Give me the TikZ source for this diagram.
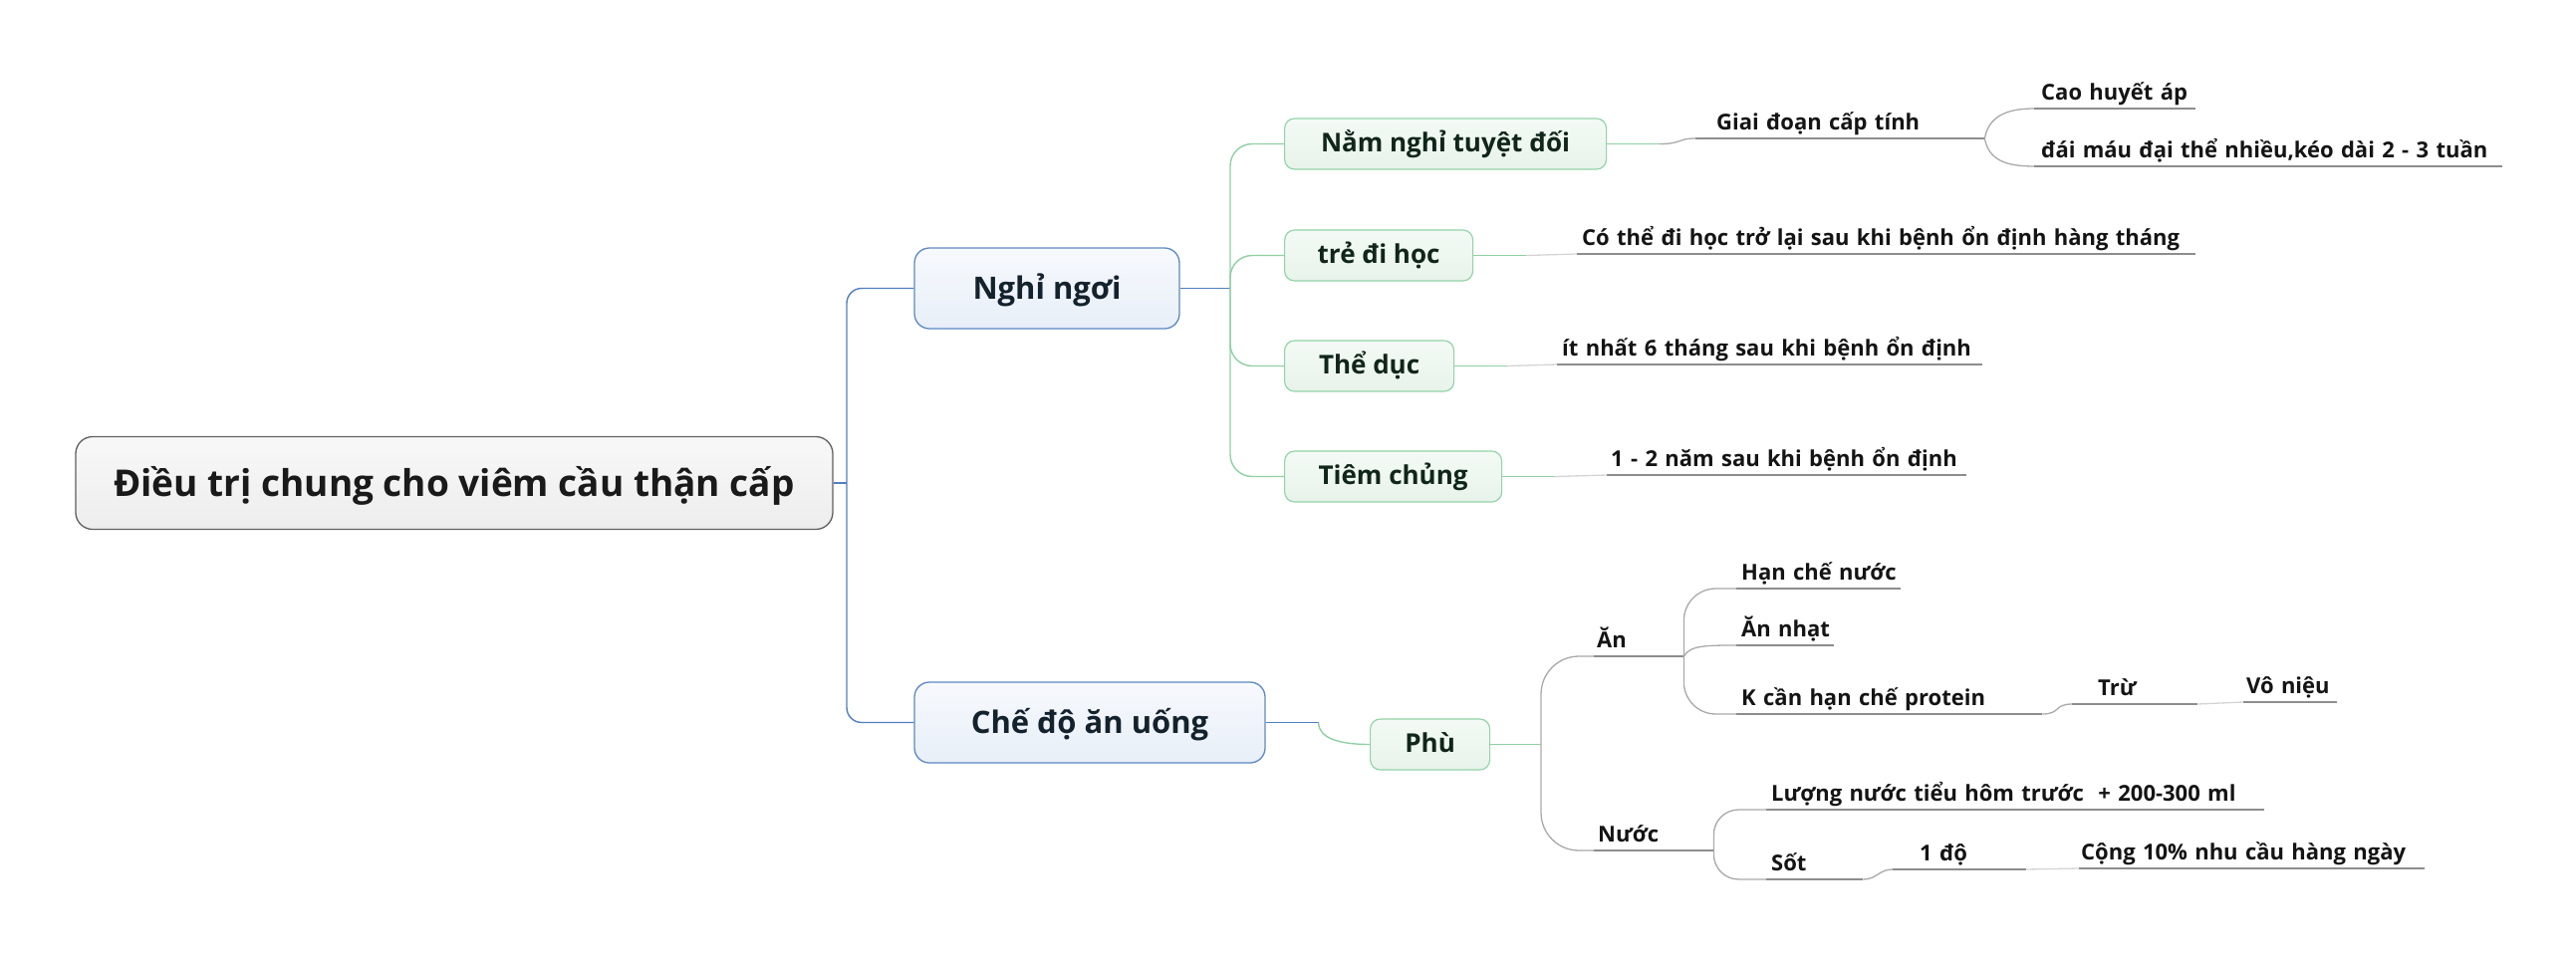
\documentclass[tikz,border=0pt]{standalone}
\usepackage{fontspec}
\setmainfont{Open Sans}
\usetikzlibrary{calc}
\definecolor{rootdraw}{HTML}{5F5F5F}
\definecolor{rootA}{HTML}{F8F8F8}
\definecolor{rootB}{HTML}{EDEDED}
\definecolor{roottext}{HTML}{1A1A1A}
\definecolor{maindraw}{HTML}{5D89C3}
\definecolor{mainA}{HTML}{F7F9FD}
\definecolor{mainB}{HTML}{E8EFF8}
\definecolor{maintext}{HTML}{13222D}
\definecolor{subdraw}{HTML}{93D3A8}
\definecolor{subA}{HTML}{F4FAF5}
\definecolor{subB}{HTML}{E7F3EA}
\definecolor{subtext}{HTML}{10261A}
\definecolor{bluecol}{HTML}{4F7FBF}
\definecolor{greencol}{HTML}{8FD0A3}
\definecolor{conncol}{HTML}{A9A9A9}
\definecolor{ulinecol}{HTML}{8D8D8D}
\definecolor{lightcol}{HTML}{D4D4D4}
\definecolor{leaftext}{HTML}{141414}
\tikzset{
 rootbox/.style={draw=rootdraw, line width=1.3pt, rounded corners=17pt, top color=rootA, bottom color=rootB,
   minimum width=760pt, minimum height=93pt, inner sep=0pt, text=roottext,
   font=\bfseries\fontsize{37}{42}\selectfont, text height=35pt, text depth=8pt},
 mainbox/.style={draw=maindraw, line width=1.3pt, rounded corners=15pt, top color=mainA, bottom color=mainB,
   minimum height=81pt, inner sep=0pt, text=maintext,
   font=\bfseries\fontsize{31}{36}\selectfont, text height=29.5pt, text depth=6.8pt},
 subbox/.style={draw=subdraw, line width=1.2pt, rounded corners=10pt, top color=subA, bottom color=subB,
   minimum height=51pt, inner sep=0pt, anchor=west, text=subtext,
   font=\bfseries\fontsize{26}{30}\selectfont, text height=23.4pt, text depth=6.5pt},
 leaf/.style={anchor=south west, align=left, inner ysep=2pt, text=leaftext,
   font=\bfseries\fontsize{22}{26}\selectfont, text height=23pt, text depth=6pt},
 uline/.style={draw=ulinecol, line width=1.4pt},
 bline/.style={draw=bluecol, line width=1.4pt},
 gline/.style={draw=greencol, line width=1.4pt},
 cline/.style={draw=conncol, line width=1.3pt},
 lline/.style={draw=lightcol, line width=1.3pt},
}
% name, x1, x2, y, left pad, text
\newcommand\leafnode[6]{%
 \pgfmathsetmacro\lfw{#3-#2-2*#5}%
 \node[leaf, inner xsep=#5pt, text width=\lfw pt] (#1) at (#2,#4) {\mbox{#6}};%
 \draw[uline] (#1.south west) -- (#1.south east);}
\begin{document}
\begin{tikzpicture}[x=1pt,y=-1pt]
\path[use as bounding box] (0,0) rectangle (2586,969);

% main nodes
\node[rootbox] (root) at (456,485) {Điều trị chung cho viêm cầu thận cấp};
\node[mainbox, minimum width=266pt] (nghi) at (1051,289.5) {Nghỉ ngơi};
\node[mainbox, minimum width=352pt] (che) at (1094,725.5) {Chế độ ăn uống};

\node[subbox, minimum width=323pt] (nam) at (1289,144.5) {Nằm nghỉ tuyệt đối};
\node[subbox, minimum width=189pt] (tre) at (1289,256.5) {trẻ đi học};
\node[subbox, minimum width=170pt] (the) at (1289,367.5) {Thể dục};
\node[subbox, minimum width=218pt] (tiem) at (1289,478.5) {Tiêm chủng};
\node[subbox, minimum width=120pt] (phu) at (1375,747.5) {Phù};

% leaves
\leafnode{gd}{1702}{1992}{139}{21}{Giai đoạn cấp tính}
\leafnode{cao}{2042}{2204}{109}{7}{Cao huyết áp}
\leafnode{dai}{2042}{2512}{167}{7}{đái máu đại thể nhiều,kéo dài 2 - 3 tuần}
\leafnode{cothe}{1583}{2204}{255}{5}{Có thể đi học trở lại sau khi bệnh ổn định hàng tháng}
\leafnode{itnhat}{1563}{1990}{366}{5}{ít nhất 6 tháng sau khi bệnh ổn định}
\leafnode{mothai}{1613}{1974}{477}{4}{1 - 2 năm sau khi bệnh ổn định}
\leafnode{an}{1600}{1690}{659}{3}{Ăn}
\leafnode{hcn}{1743}{1908}{591}{5}{Hạn chế nước}
\leafnode{nhat}{1743}{1841}{648}{5}{Ăn nhạt}
\leafnode{kcan}{1743}{2050}{717}{5}{K cần hạn chế protein}
\leafnode{tru}{2080}{2206}{707}{26}{Trừ}
\leafnode{vn}{2252}{2346}{705}{3}{Vô niệu}
\leafnode{nuoc}{1600}{1720}{854}{4}{Nước}
\leafnode{luong}{1773}{2273}{813}{5}{Lượng nước tiểu hôm trước~ + 200-300 ml}
\leafnode{sot}{1773}{1870}{883}{5}{Sốt}
\leafnode{mot}{1900}{2034}{873}{27}{1 độ}
\leafnode{cong}{2087}{2434}{872}{2}{Cộng 10\% nhu cầu hàng ngày}

% root connectors
\coordinate (rj) at (850,485);
\draw[bline] (root.east) -- (rj);
\draw[bline, rounded corners=15pt] (rj) |- (nghi.west);
\draw[bline, rounded corners=15pt] (rj) |- (che.west);

% Nghỉ ngơi connectors
\coordinate (nj) at (1235,289.5);
\draw[bline] (nghi.east) -- (nj);
\foreach \c in {nam,tre,the,tiem} \draw[gline, rounded corners=22pt] (nj) |- (\c.west);

\draw[gline] (nam.east) -- ++(53,0) coordinate (nam-m);
\draw[cline] (nam-m) .. controls +(22,0) and +(-18,0) .. (gd.south west);
\draw[cline] (gd.south east) .. controls +(4,-22) and +(-28,0) .. (cao.south west);
\draw[cline] (gd.south east) .. controls +(4,22) and +(-28,0) .. (dai.south west);

\draw[gline] (tre.east) -- ++(53,0) coordinate (tre-m);
\draw[lline] (tre-m) -- (cothe.south west);
\draw[gline] (the.east) -- ++(53,0) coordinate (the-m);
\draw[lline] (the-m) -- (itnhat.south west);
\draw[gline] (tiem.east) -- ++(53,0) coordinate (tiem-m);
\draw[lline] (tiem-m) -- (mothai.south west);

% Chế độ ăn uống connectors
\draw[bline] (che.east) -- ++(53,0) coordinate (che-m);
\draw[gline] (che-m) .. controls +(0,16) and +(-30,0) .. (phu.west);
\coordinate (pj) at (1547,747.5);
\draw[gline] (phu.east) -- (pj);
\draw[cline, rounded corners=38pt] (pj) |- (an.south west);
\draw[cline, rounded corners=38pt] (pj) |- (nuoc.south west);

\draw[cline, rounded corners=32pt] (an.south east) |- (hcn.south west);
\draw[cline] (an.south east) .. controls +(6,-11) and +(-30,0) .. (nhat.south west);
\draw[cline, rounded corners=32pt] (an.south east) |- (kcan.south west);
\draw[cline] (kcan.south east) .. controls +(18,0) and +(-18,0) .. (tru.south west);
\draw[lline] (tru.south east) -- (vn.south west);

\draw[cline, rounded corners=25pt] (nuoc.south east) |- (luong.south west);
\draw[cline, rounded corners=25pt] (nuoc.south east) |- (sot.south west);
\draw[cline] (sot.south east) .. controls +(14,0) and +(-14,0) .. (mot.south west);
\draw[lline] (mot.south east) -- (cong.south west);
\end{tikzpicture}
\end{document}
